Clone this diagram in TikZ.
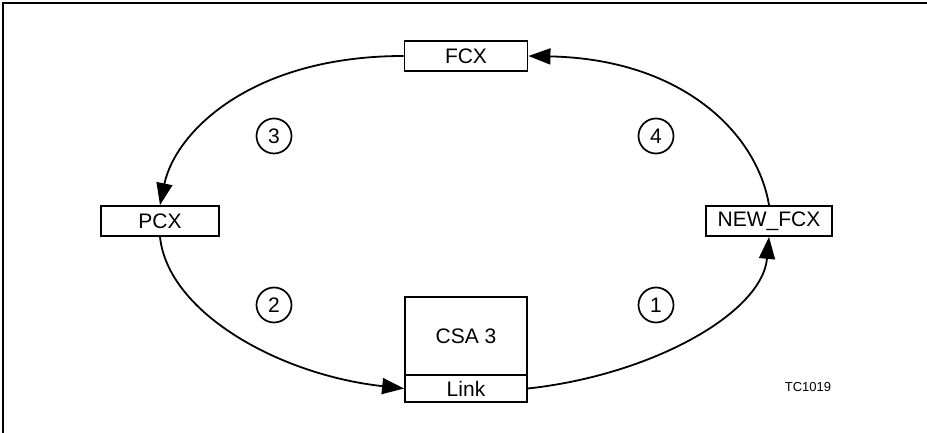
\documentclass[tikz,border=0pt]{standalone}
\usepackage{fontspec}
\setmainfont{Liberation Sans}
\usetikzlibrary{arrows.meta}
\begin{document}
\begin{tikzpicture}[x=1pt,y=1pt,
  box/.style={draw,line width=1.8pt,inner sep=0pt,minimum height=30pt,font=\fontsize{21}{23}\selectfont},
  num/.style={draw,circle,line width=1.7pt,inner sep=0pt,minimum size=35pt,font=\fontsize{21}{23}\selectfont},
  conn/.style={line width=1.8pt,-{Triangle[length=22pt,width=16pt]}}]
\useasboundingbox (0,0) rectangle (927,433);
\draw[line width=2pt] (3,0) -- (3,430) -- (927,430);
\node[box,minimum width=123pt] (fcx) at (466,377) {FCX};
\node[box,minimum width=118pt] (pcx) at (160,212) {PCX};
\node[box,minimum width=126pt] (nfcx) at (769,212) {NEW\_FCX};
\node[box,minimum width=122pt,minimum height=78pt] (csa) at (466,97) {CSA 3};
\node[box,minimum width=122pt,minimum height=27pt,anchor=north,yshift=1.8pt] (link) at (csa.south) {Link};
\node[num] (n3) at (274,297) {3};
\node[num] (n4) at (656,297) {4};
\node[num] (n2) at (274,128) {2};
\node[num] (n1) at (656,128) {1};
\node[font=\fontsize{13}{15}\selectfont] (tc) at (808,46) {TC1019};
\draw[conn] (fcx.west) .. controls (250,377) and (175,300) .. (pcx.north);
\draw[conn] (pcx.south) .. controls (168,120) and (280,58) .. (link.west);
\draw[conn] (link.east) .. controls (652,58) and (762,120) .. (nfcx.south);
\draw[conn] (nfcx.north) .. controls (757,300) and (682,374) .. (fcx.east);
\end{tikzpicture}
\end{document}
